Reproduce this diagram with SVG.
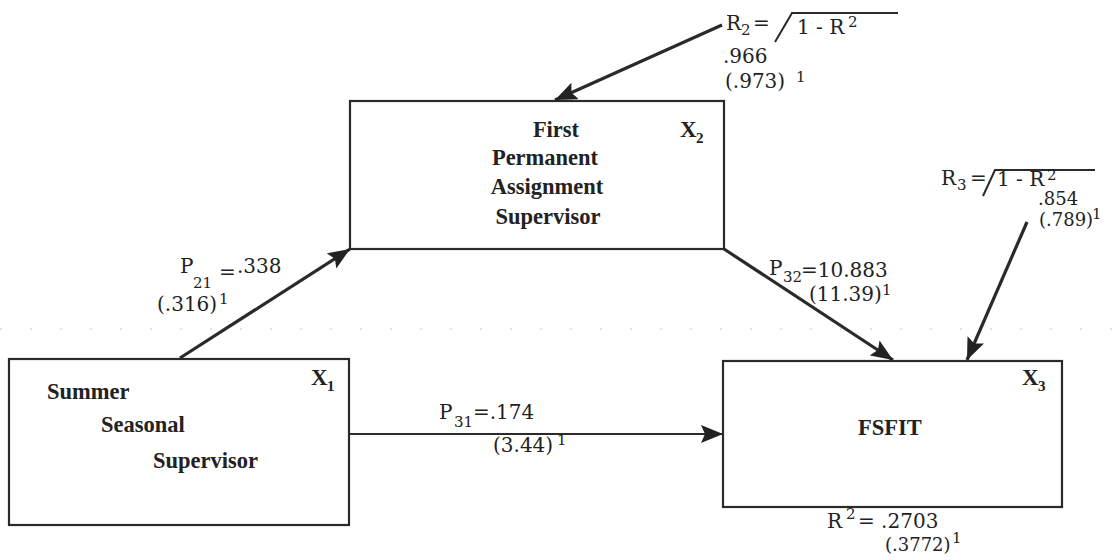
<svg xmlns="http://www.w3.org/2000/svg" width="1116" height="560" viewBox="0 0 1116 560">
<style>
.box{fill:none;stroke:#2a2a2a;stroke-width:2.2}
.lbl{font-family:"Liberation Serif","Times New Roman",serif;font-weight:bold;font-size:22.5px;fill:#222}
.xl{font-family:"Liberation Serif","Times New Roman",serif;font-weight:bold;font-size:23px;fill:#222}
.xs{font-family:"Liberation Serif","Times New Roman",serif;font-weight:bold;font-size:15px;fill:#222}
.t{font-family:"DejaVu Serif","Liberation Serif",serif;font-size:20px;fill:#222}
.t2{font-family:"DejaVu Serif","Liberation Serif",serif;font-size:18px;fill:#222}
.s{font-family:"DejaVu Serif","Liberation Serif",serif;font-size:15px;fill:#222}
.arr{stroke:#2a2a2a;stroke-width:3.2;fill:none;marker-end:url(#ah)}
.arr2{stroke:#2a2a2a;stroke-width:2.2;fill:none;marker-end:url(#ah)}
.rad{stroke:#2a2a2a;stroke-width:2;fill:none}
</style>
<defs>
<marker id="ah" markerUnits="userSpaceOnUse" markerWidth="24" markerHeight="18" refX="22" refY="9" orient="auto">
<path d="M0,0 L22,9 L0,18 L4,9 z" fill="#222"/>
</marker>
</defs>
<rect width="1116" height="560" fill="#fff"/>
<line x1="0" y1="329" x2="1116" y2="329" stroke="#c8c8c8" stroke-width="1" stroke-dasharray="2 28"/>

<g id="connectors">
<line class="arr" x1="180" y1="358" x2="350" y2="249"/>
<line class="arr" x1="724" y1="249" x2="893" y2="360"/>
<line class="arr2" x1="349" y1="434" x2="723" y2="434"/>
<line class="arr" x1="722" y1="25" x2="555" y2="100"/>
<line class="arr" x1="1027" y1="222" x2="967" y2="360"/>
</g>

<g id="node-x1">
<rect class="box" x="9" y="359" width="340" height="166"/>
<text class="lbl" x="47" y="399">Summer</text>
<text class="lbl" x="101" y="432">Seasonal</text>
<text class="lbl" x="153" y="468">Supervisor</text>
<text class="xl" x="311" y="385">X</text><text class="xs" x="327" y="391">1</text>
</g>

<g id="node-x2">
<rect class="box" x="350" y="101" width="374" height="148"/>
<text class="lbl" x="556" y="137" text-anchor="middle">First</text>
<text class="lbl" x="545" y="165" text-anchor="middle">Permanent</text>
<text class="lbl" x="547" y="194" text-anchor="middle">Assignment</text>
<text class="lbl" x="548" y="224" text-anchor="middle">Supervisor</text>
<text class="xl" x="680" y="137">X</text><text class="xs" x="696" y="143">2</text>
</g>

<g id="node-x3">
<rect class="box" x="723" y="361" width="339" height="146"/>
<text class="lbl" x="890" y="435" text-anchor="middle">FSFIT</text>
<text class="xl" x="1022" y="385">X</text><text class="xs" x="1038" y="391">3</text>
</g>

<g id="label-r2">
<text class="t" x="726" y="30">R</text><text class="s" x="741" y="35">2</text>
<text class="t" x="753" y="30">=</text>
<path class="rad" d="M775,42 L792,13 L898,13"/>
<text class="t" x="797" y="34">1 - R</text><text class="s" x="848" y="27">2</text>
<text class="t" x="723" y="63">.966</text>
<text class="t" x="725" y="88">(.973)</text><text class="s" x="796" y="82">1</text>
</g>

<g id="label-r3">
<text class="t" x="941" y="185">R</text><text class="s" x="957" y="190">3</text>
<text class="t" x="970" y="185">=</text>
<path class="rad" d="M983,196 L995,170 L1095,170"/>
<text class="t" x="997" y="186">1 - R</text><text class="s" x="1047" y="180">2</text>
<text class="t2" x="1038" y="205">.854</text>
<text class="t2" x="1039" y="226">(.789)</text><text class="s" x="1092" y="219">1</text>
</g>

<g id="label-p21">
<text class="t" x="180" y="273">P</text><text class="s" x="193" y="288">21</text>
<text class="t" x="219" y="279">=</text>
<text class="t" x="237" y="273">.338</text>
<text class="t" x="157" y="311">(.316)</text><text class="s" x="219" y="304">1</text>
</g>

<g id="label-p32">
<text class="t" x="769" y="275">P</text><text class="s" x="783" y="282">32</text>
<text class="t" x="801" y="277">=10.883</text>
<text class="t" x="809" y="301">(11.39)</text><text class="s" x="882" y="295">1</text>
</g>

<g id="label-p31">
<text class="t" x="439" y="419">P</text><text class="s" x="454" y="427">31</text>
<text class="t" x="473" y="419">=.174</text>
<text class="t" x="493" y="452">(3.44)</text><text class="s" x="557" y="445">1</text>
</g>

<g id="label-r2-x3">
<text class="t" x="827" y="528">R</text><text class="s" x="846" y="519">2</text>
<text class="t" x="858" y="528">= .2703</text>
<text class="t2" x="885" y="551">(.3772)</text><text class="s" x="952" y="543">1</text>
</g>
</svg>
